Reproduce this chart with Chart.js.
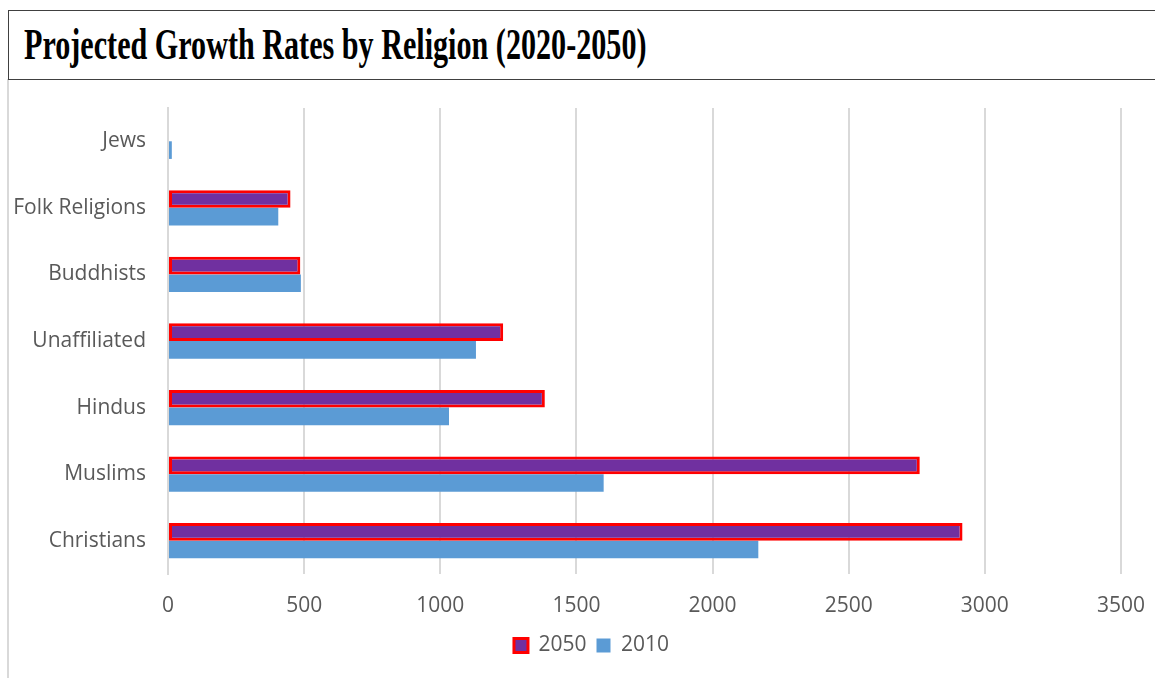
<!DOCTYPE html>
<html>
<head>
<meta charset="utf-8">
<script src="https://cdn.jsdelivr.net/npm/chart.js@4.4.1/dist/chart.umd.min.js"></script>
<style>
  html, body { margin: 0; padding: 0; background: #ffffff; }
  body { width: 1155px; height: 678px; position: relative; overflow: hidden; }
  #titleBox {
    position: absolute; left: 8px; top: 10px; width: 1160px; height: 70px;
    border: 1.5px solid #404040; box-sizing: border-box; background: #fff;
  }
  #titleText {
    position: absolute; left: 15px; top: 8px;
    font-family: "Liberation Serif", "Times New Roman", serif; font-weight: bold;
    font-size: 44px; color: #000; white-space: nowrap;
    transform-origin: 0 0; transform: scaleX(0.685);
  }
  #leftLine { position: absolute; left: 7px; top: 79px; width: 2px; height: 600px; background: #d9d9d9; }
  #wrap { position: absolute; left: 0; top: 0; width: 1155px; height: 678px; }
</style>
</head>
<body>
<div id="wrap"><canvas id="c" width="1155" height="678"></canvas></div>
<div id="leftLine"></div>
<div id="titleBox"><div id="titleText">Projected Growth Rates by Religion (2020-2050)</div></div>
<script>
const categories = ["Jews", "Folk Religions", "Buddhists", "Unaffiliated", "Hindus", "Muslims", "Christians"];
const values2050 = [null, 450, 486, 1231, 1384, 2761, 2918];
const values2010 = [14, 405, 488, 1131, 1032, 1600, 2168];
const xTicks = [0, 500, 1000, 1500, 2000, 2500, 3000, 3500];

const fontFam = '"Open Sans", "Noto Sans", sans-serif';

const shiftLegend = {
  id: 'shiftLegend',
  afterLayout(chart) {
    const lg = chart.legend;
    if (lg) { lg.left += 31; lg.right += 31; }
  }
};

new Chart(document.getElementById('c'), {
  type: 'bar',
  data: {
    labels: categories,
    datasets: [
      { label: '2050', data: values2050, backgroundColor: '#7030A0', borderColor: '#FF0000', borderWidth: 3,
        categoryPercentage: 0.53, barPercentage: 1.0, borderSkipped: false },
      { label: '2010', data: values2010, backgroundColor: '#5B9BD5', borderColor: '#5B9BD5', borderWidth: 0,
        categoryPercentage: 0.53, barPercentage: 1.0 }
    ]
  },
  plugins: [shiftLegend],
  options: {
    indexAxis: 'y',
    responsive: false,
    animation: false,
    layout: { padding: { top: 108, right: 34, bottom: 12, left: 0 } },
    plugins: {
      title: { display: false },
      tooltip: { enabled: false },
      legend: {
        position: 'bottom',
        labels: { boxWidth: 14, boxHeight: 14, color: '#595959', font: { family: fontFam, size: 21 }, padding: 10 }
      }
    },
    scales: {
      x: {
        min: 0, max: 3500,
        afterBuildTicks: (s) => { s.ticks = xTicks.map(v => ({ value: v })); },
        afterFit: (s) => { s.height = 51; s.paddingRight = 0; s.paddingLeft = 0; },
        grid: { color: '#d9d9d9', lineWidth: 2, drawTicks: false },
        border: { display: false },
        ticks: { color: '#595959', font: { family: fontFam, size: 21 }, padding: 19,
                 callback: (v) => String(v) }
      },
      y: {
        afterFit: (s) => { s.width = 168; },
        grid: { display: false, drawTicks: false },
        border: { display: true, color: '#d9d9d9', width: 2 },
        ticks: { color: '#595959', font: { family: fontFam, size: 21 }, padding: 22 }
      }
    }
  }
});
</script>
</body>
</html>
